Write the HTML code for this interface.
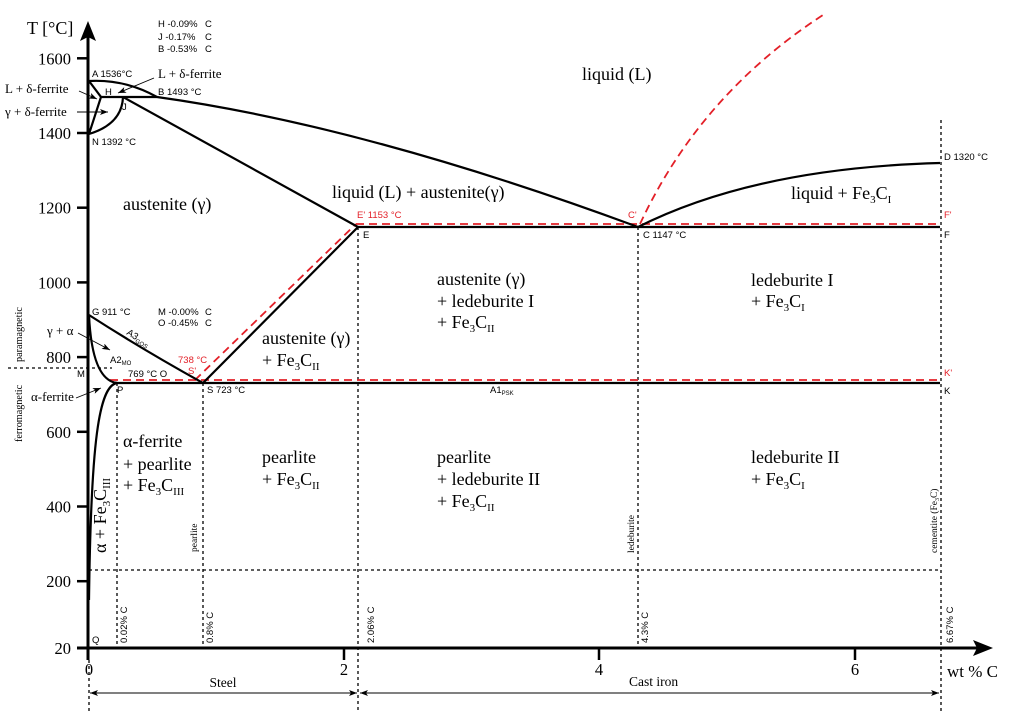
<!DOCTYPE html>
<html><head><meta charset="utf-8"><style>
html,body{margin:0;padding:0;background:#fff;}
svg{display:block;}
.s{font-family:"Liberation Sans",sans-serif;font-size:9.5px;fill:#000;}
.r{fill:#e32028;}
.t{font-family:"Liberation Serif",serif;font-size:18px;fill:#000;}
.m{font-family:"Liberation Serif",serif;font-size:13px;fill:#000;}
.v{font-family:"Liberation Serif",serif;font-size:9.5px;fill:#000;}
.k{font-family:"Liberation Serif",serif;font-size:16.5px;fill:#000;}
.sl{fill:none;stroke:#000;stroke-width:2.2;}
.dt{fill:none;stroke:#000;stroke-width:1.3;stroke-dasharray:3 3;}
.rd{fill:none;stroke:#e32028;stroke-width:1.8;stroke-dasharray:8 5;}
</style></head><body>
<svg width="1024" height="711" viewBox="0 0 1024 711" xmlns="http://www.w3.org/2000/svg">
<defs>
<marker id="ah" markerWidth="8" markerHeight="6" refX="8" refY="3" orient="auto-start-reverse" markerUnits="userSpaceOnUse"><path d="M0,0 L8,3 L0,6 L2,3 Z" fill="#000"/></marker>
</defs>

<!-- dotted lines -->
<line class="dt" x1="117" y1="383" x2="117" y2="648"/>
<line class="dt" x1="203" y1="383" x2="203" y2="648"/>
<line class="dt" x1="358" y1="227" x2="358" y2="711"/>
<line class="dt" x1="638" y1="227" x2="638" y2="648"/>
<line class="dt" x1="941" y1="120" x2="941" y2="711"/>
<line class="dt" x1="89" y1="660" x2="89" y2="711"/>
<line class="dt" x1="89" y1="570" x2="941" y2="570"/>
<line class="dt" x1="8" y1="368" x2="112" y2="368"/>

<!-- red dashed -->
<path class="rd" d="M356,224 L940,224"/>
<path class="rd" d="M110,380 L940,380"/>
<path class="rd" d="M195,380 L356,224"/>
<path class="rd" d="M640,224 Q700,95 823,15"/>

<!-- solid phase lines -->
<path class="sl" d="M89,81 Q125,79 157,97"/>
<path class="sl" d="M157,97 Q365,126 638,227"/>
<path class="sl" d="M89,81 L101,97 L89,134"/>
<path class="sl" d="M101,97 L157,97"/>
<path class="sl" d="M89,134 Q122,124 123,97"/>
<path class="sl" d="M123,97 L358,227"/>
<path class="sl" d="M358,227 L940,227"/>
<path class="sl" d="M638,227 Q755,168 940,163"/>
<path class="sl" d="M89,315 Q140,348 203,383"/>
<path class="sl" d="M89,315 Q92,380 117,383"/>
<path class="sl" d="M117,383 C99,386 91,440 89,600"/>
<path class="sl" d="M113,383 L940,383"/>
<path class="sl" d="M203,383 L358,227"/>

<!-- axes -->
<line x1="88" y1="35" x2="88" y2="660" stroke="#000" stroke-width="3"/>
<line x1="77" y1="648" x2="980" y2="648" stroke="#000" stroke-width="3"/>
<path d="M88,21 L80,41 L88,37 L96,41 Z" fill="#000"/>
<path d="M993,648 L973,640 L977,648 L973,656 Z" fill="#000"/>
<g stroke="#000" stroke-width="2.5">
<line x1="77" y1="58.3" x2="88" y2="58.3"/>
<line x1="77" y1="133" x2="88" y2="133"/>
<line x1="77" y1="207.7" x2="88" y2="207.7"/>
<line x1="77" y1="282.4" x2="88" y2="282.4"/>
<line x1="77" y1="357.1" x2="88" y2="357.1"/>
<line x1="77" y1="431.8" x2="88" y2="431.8"/>
<line x1="77" y1="506.5" x2="88" y2="506.5"/>
<line x1="77" y1="581.2" x2="88" y2="581.2"/>
<line x1="344" y1="648" x2="344" y2="660"/>
<line x1="599" y1="648" x2="599" y2="660"/>
<line x1="855" y1="648" x2="855" y2="660"/>
</g>
<g class="k" text-anchor="end">
<text x="71" y="64.5">1600</text>
<text x="71" y="139">1400</text>
<text x="71" y="213.5">1200</text>
<text x="71" y="288.5">1000</text>
<text x="71" y="363">800</text>
<text x="71" y="438">600</text>
<text x="71" y="512.5">400</text>
<text x="71" y="587">200</text>
<text x="71" y="654">20</text>
</g>
<g class="k" text-anchor="middle">
<text x="89" y="675">0</text>
<text x="344" y="675">2</text>
<text x="599" y="675">4</text>
<text x="855" y="675">6</text>
</g>
<text x="27" y="34" class="t">T [°C]</text>
<text x="947" y="677" class="k" style="font-size:17px">wt % C</text>

<!-- bottom arrows -->
<line x1="90" y1="693" x2="357" y2="693" stroke="#000" stroke-width="1" marker-start="url(#ah)" marker-end="url(#ah)"/>
<line x1="360" y1="693" x2="939" y2="693" stroke="#000" stroke-width="1" marker-start="url(#ah)" marker-end="url(#ah)"/>
<text x="223" y="687" class="m" text-anchor="middle" style="font-size:13.5px">Steel</text>
<text x="629" y="686" class="m" style="font-size:13.5px">Cast iron</text>

<!-- composition notes -->
<text class="s" x="158" y="27">H -0.09%</text><text class="s" x="205" y="27">C</text>
<text class="s" x="158" y="40">J  -0.17%</text><text class="s" x="205" y="40">C</text>
<text class="s" x="158" y="52">B -0.53%</text><text class="s" x="205" y="52">C</text>
<text class="s" x="158" y="315">M -0.00%</text><text class="s" x="205" y="315">C</text>
<text class="s" x="158" y="326">O -0.45%</text><text class="s" x="205" y="326">C</text>

<!-- point labels -->
<text class="s" x="92" y="77">A 1536°C</text>
<text class="s" x="105" y="95">H</text>
<text class="s" x="158" y="95">B 1493 °C</text>
<text class="s" x="122" y="110">J</text>
<text class="s" x="92" y="145">N 1392 °C</text>
<text class="s" x="92" y="315">G 911 °C</text>
<text class="s" x="77" y="377">M</text>
<text class="s" x="128" y="377">769 °C O</text>
<text class="s" x="117" y="393">P</text>
<text class="s" x="207" y="393">S 723 °C</text>
<text class="s r" x="178" y="363">738 °C</text>
<text class="s r" x="188" y="374">S'</text>
<text class="s r" x="357" y="218">E' 1153 °C</text>
<text class="s" x="363" y="238">E</text>
<text class="s r" x="628" y="218">C'</text>
<text class="s" x="643" y="238">C 1147 °C</text>
<text class="s" x="944" y="160">D 1320 °C</text>
<text class="s r" x="944" y="218">F'</text>
<text class="s" x="944" y="238">F</text>
<text class="s r" x="944" y="376">K'</text>
<text class="s" x="944" y="394">K</text>
<text class="s" x="92" y="643">Q</text>
<text class="s" x="490" y="393">A1<tspan font-size="6" dy="2">PSK</tspan></text>
<text class="s" x="110" y="363">A2<tspan font-size="6" dy="2">MO</tspan></text>
<text class="s" transform="translate(126,334) rotate(32)">A3<tspan font-size="6" dy="2">GOS</tspan></text>

<!-- rotated composition labels -->
<g class="s">
<text transform="translate(127,643) rotate(-90)">0.02% C</text>
<text transform="translate(213,643) rotate(-90)">0.8% C</text>
<text transform="translate(374,643) rotate(-90)">2.06% C</text>
<text transform="translate(648,643) rotate(-90)">4.3% C</text>
<text transform="translate(953,643) rotate(-90)">6.67% C</text>
</g>
<g class="v">
<text transform="translate(197,552) rotate(-90)">pearlite</text>
<text transform="translate(634,553) rotate(-90)">ledeburite</text>
<text transform="translate(937,553) rotate(-90)">cementite (Fe<tspan font-size="6" dy="2">3</tspan><tspan dy="-2">C)</tspan></text>
<text transform="translate(22,362) rotate(-90)" style="font-size:10.2px">paramagnetic</text>
<text transform="translate(22,442) rotate(-90)" style="font-size:10.2px">ferromagnetic</text>
</g>

<!-- small serif labels with arrows -->
<text class="m" x="158" y="78">L + δ-ferrite</text>
<line x1="154" y1="78" x2="118" y2="93" stroke="#000" stroke-width="0.9" marker-end="url(#ah)"/>
<text class="m" x="5" y="93">L + δ-ferrite</text>
<line x1="79" y1="91" x2="97" y2="99" stroke="#000" stroke-width="0.9" marker-end="url(#ah)"/>
<text class="m" x="5" y="116">γ + δ-ferrite</text>
<line x1="77" y1="112" x2="108" y2="112" stroke="#000" stroke-width="0.9" marker-end="url(#ah)"/>
<text class="m" x="47" y="335">γ + α</text>
<line x1="78" y1="333" x2="110" y2="350" stroke="#000" stroke-width="0.9" marker-end="url(#ah)"/>
<text class="m" x="31" y="401">α-ferrite</text>
<line x1="76" y1="398" x2="101" y2="388" stroke="#000" stroke-width="0.9" marker-end="url(#ah)"/>

<!-- region labels -->
<g class="t">
<text x="582" y="80">liquid (L)</text>
<text x="123" y="210">austenite (γ)</text>
<text x="332" y="198">liquid (L) + austenite(γ)</text>
<text x="791" y="199">liquid + Fe<tspan font-size="11" dy="4">3</tspan><tspan dy="-4">C</tspan><tspan font-size="11" dy="4">I</tspan></text>

<text x="437" y="285">austenite (γ)</text>
<text x="437" y="307">+ ledeburite I</text>
<text x="437" y="328">+ Fe<tspan font-size="11" dy="4">3</tspan><tspan dy="-4">C</tspan><tspan font-size="11" dy="4">II</tspan></text>

<text x="751" y="286">ledeburite I</text>
<text x="751" y="307">+ Fe<tspan font-size="11" dy="4">3</tspan><tspan dy="-4">C</tspan><tspan font-size="11" dy="4">I</tspan></text>

<text x="262" y="344">austenite (γ)</text>
<text x="262" y="366">+ Fe<tspan font-size="11" dy="4">3</tspan><tspan dy="-4">C</tspan><tspan font-size="11" dy="4">II</tspan></text>

<text x="123" y="447">α-ferrite</text>
<text x="123" y="470">+ pearlite</text>
<text x="123" y="491">+ Fe<tspan font-size="11" dy="4">3</tspan><tspan dy="-4">C</tspan><tspan font-size="11" dy="4">III</tspan></text>

<text x="262" y="463">pearlite</text>
<text x="262" y="485">+ Fe<tspan font-size="11" dy="4">3</tspan><tspan dy="-4">C</tspan><tspan font-size="11" dy="4">II</tspan></text>

<text x="437" y="463">pearlite</text>
<text x="437" y="485">+ ledeburite II</text>
<text x="437" y="507">+ Fe<tspan font-size="11" dy="4">3</tspan><tspan dy="-4">C</tspan><tspan font-size="11" dy="4">II</tspan></text>

<text x="751" y="463">ledeburite II</text>
<text x="751" y="485">+ Fe<tspan font-size="11" dy="4">3</tspan><tspan dy="-4">C</tspan><tspan font-size="11" dy="4">I</tspan></text>

<text transform="translate(106,553) rotate(-90)">α + Fe<tspan font-size="11" dy="4">3</tspan><tspan dy="-4">C</tspan><tspan font-size="11" dy="4">III</tspan></text>
</g>
</svg>
</body></html>
